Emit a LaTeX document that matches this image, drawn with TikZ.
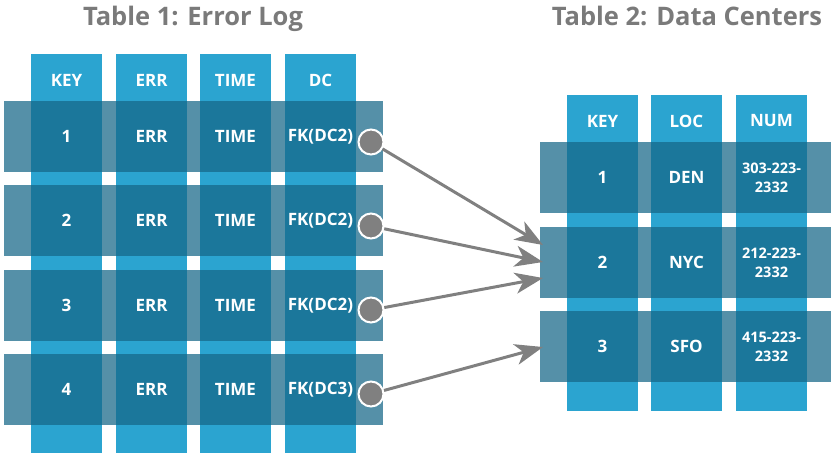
\documentclass[tikz,border=0pt]{standalone}
\usepackage{fontspec}
\setmainfont{Open Sans}
\usetikzlibrary{arrows.meta}
\definecolor{colblue}{RGB}{43,164,208}
\definecolor{rowblue}{RGB}{22,103,136}
\definecolor{titlegray}{RGB}{122,122,122}
\definecolor{linkgray}{RGB}{128,128,128}
\tikzset{
  colbar/.style={rectangle, fill=colblue, inner sep=0pt, minimum width=71pt},
  rowbar/.style={rectangle, fill=rowblue, fill opacity=0.73, inner sep=0pt, minimum height=71pt},
  cell/.style={text=white, inner sep=0pt, font=\bfseries\fontsize{17}{19}\selectfont},
  phone/.style={cell, align=center, font=\bfseries\fontsize{14.5}{19}\selectfont},
  tabletitle/.style={text=titlegray, anchor=base, font=\bfseries\fontsize{25.5}{27}\selectfont},
  linkdot/.style={circle, fill=linkgray, draw=white, line width=2pt, minimum size=25pt, inner sep=0pt},
  link/.style={draw=linkgray, line width=3pt, -{Stealth[length=28pt, width=21pt, inset=8pt]}}
}

\begin{document}
\begin{tikzpicture}[x=1pt,y=-1pt]
  \useasboundingbox (0,0) rectangle (831,453);

  % table 1: error log
  \node[tabletitle] (title1) at (193,25) {Table 1: Error Log};
  \foreach \j/\x in {1/66.5,2/151.5,3/235.5,4/320.5}
    \node[colbar, minimum height=400pt] (c\j) at (\x,254) {};
  \foreach \i/\y in {1/136.5,2/220.5,3/305.5,4/389.5}
    \node[rowbar, minimum width=379pt] (r\i) at (193.5,\y) {};
  \foreach \j/\txt in {1/KEY,2/ERR,3/TIME,4/DC}
    \node[cell] (h\j) at (c\j |- 0,80) {\txt};
  \foreach \i/\fk in {1/DC2,2/DC2,3/DC2,4/DC3} {
    \node[cell] (k\i) at (c1 |- r\i) {\i};
    \node[cell] (e\i) at (c2 |- r\i) {ERR};
    \node[cell] (t\i) at (c3 |- r\i) {TIME};
    \node[cell] (f\i) at (c4 |- r\i) {FK(\fk)};
  }

  % table 2: data centers
  \node[tabletitle] (title2) at (687,25) {Table 2: Data Centers};
  \foreach \j/\x in {1/602.5,2/686.5,3/771.5}
    \node[colbar, minimum height=316pt] (d\j) at (\x,253) {};
  \foreach \i/\y in {1/177.5,2/262.5,3/346.5}
    \node[rowbar, minimum width=292pt] (s\i) at (686,\y) {};
  \foreach \j/\txt in {1/KEY,2/LOC,3/NUM}
    \node[cell] (g\j) at (d\j |- 0,121) {\txt};
  \foreach \i/\loc/\num in {1/DEN/303,2/NYC/212,3/SFO/415} {
    \node[cell] (n\i) at (d1 |- s\i) {\i};
    \node[cell] (l\i) at (d2 |- s\i) {\loc};
    \node[phone] (m\i) at (d3 |- s\i) {\num-223-\\2332};
  }

  % foreign keys
  \coordinate (in1) at (543,245);
  \coordinate (in2) at (543,262);
  \coordinate (in3) at (543,278);
  \coordinate (in4) at (543,347);
  \node[linkdot] (p1) at (371,142) {};
  \node[linkdot] (p2) at (371,226) {};
  \node[linkdot] (p3) at (371,310) {};
  \node[linkdot] (p4) at (371,394) {};
  \foreach \i in {1,2,3,4}
    \draw[link] (p\i) -- (in\i);
\end{tikzpicture}
\end{document}
